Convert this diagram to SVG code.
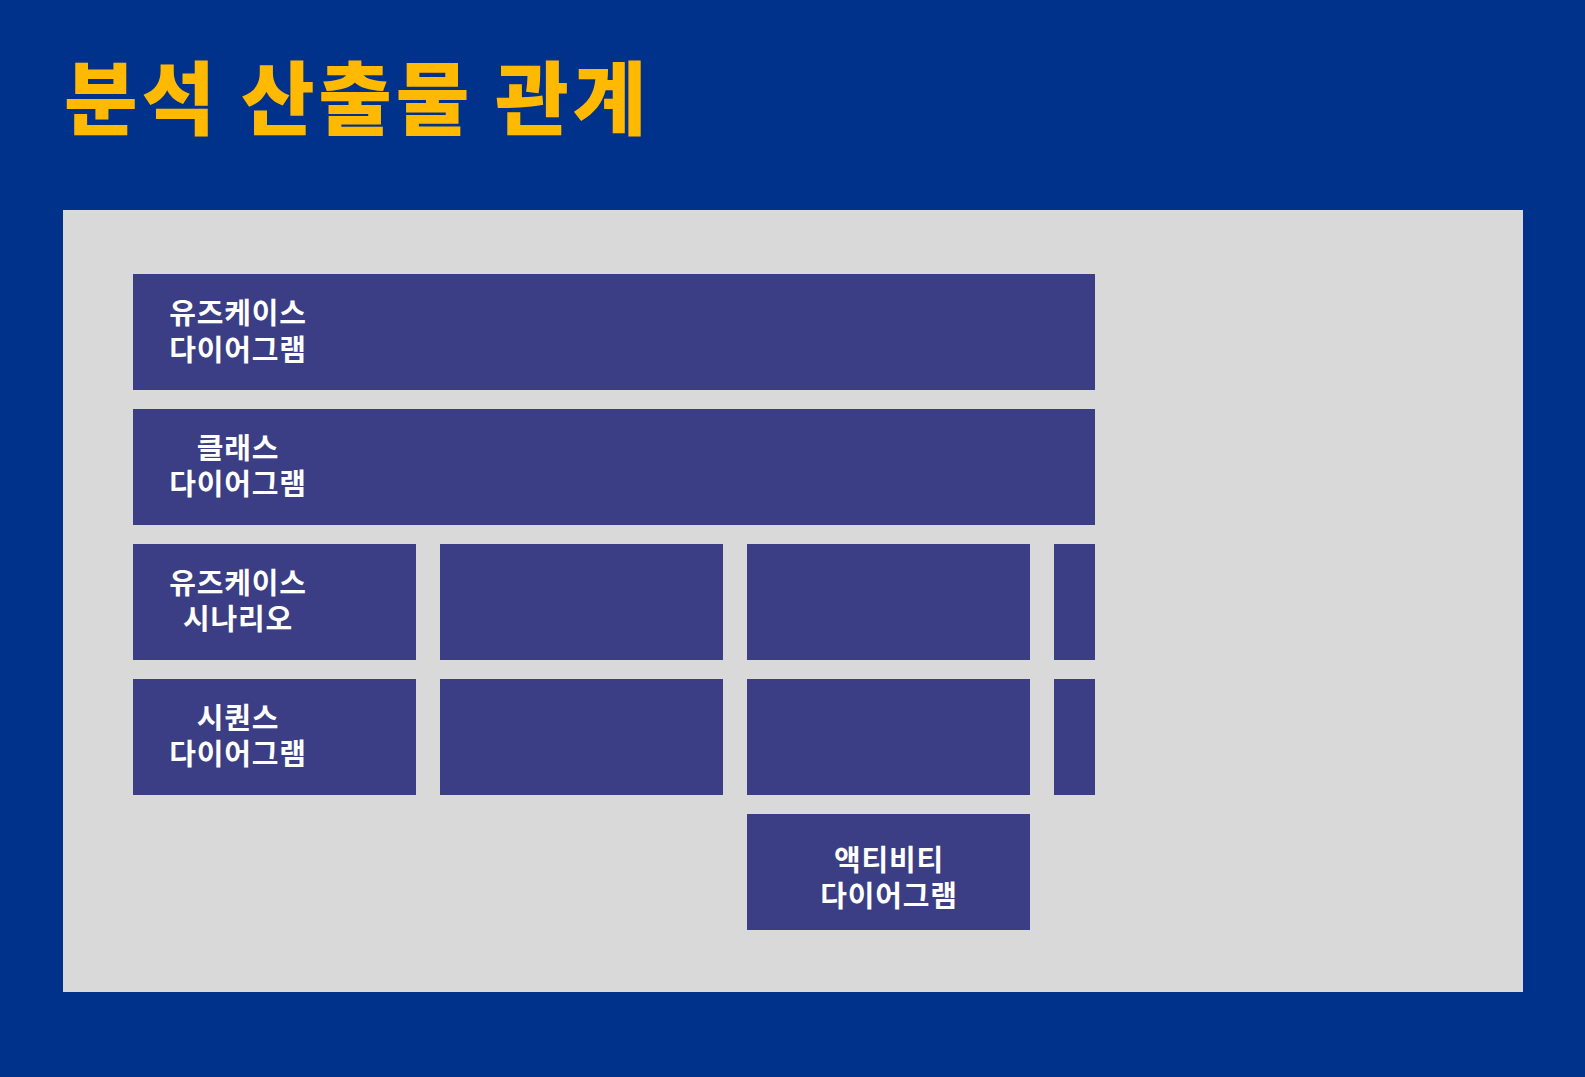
<svg xmlns="http://www.w3.org/2000/svg" width="1585" height="1077" viewBox="0 0 1585 1077">
<style>
.title{font-family:"Noto Sans CJK KR","Noto Sans",sans-serif;font-weight:900;font-size:80px;letter-spacing:3.8px;fill:#FFB900}
.box{fill:#3B3E84}
.lbl{font-family:"Noto Sans CJK KR","Noto Sans",sans-serif;font-weight:700;font-size:29px;letter-spacing:0.8px;fill:#FFFFFF;text-anchor:middle}
</style>
<rect x="0" y="0" width="1585" height="1077" fill="#00318B"/>
<text class="title" x="64" y="128">분석 산출물 관계</text>
<rect id="panel" x="63" y="210" width="1460" height="782" fill="#D9D9D9"/>
<g id="node-usecase-diagram">
<rect class="box" x="133" y="274" width="962" height="116"/>
<text class="lbl"><tspan x="238" y="324">유즈케이스</tspan><tspan x="238" y="361">다이어그램</tspan></text>
</g>
<g id="node-class-diagram">
<rect class="box" x="133" y="409" width="962" height="116"/>
<text class="lbl"><tspan x="238" y="459">클래스</tspan><tspan x="238" y="495">다이어그램</tspan></text>
</g>
<g id="node-usecase-scenario">
<rect class="box" x="133" y="544" width="283" height="116"/>
<text class="lbl"><tspan x="238" y="594">유즈케이스</tspan><tspan x="238" y="630">시나리오</tspan></text>
</g>
<g id="node-r3c2"><rect class="box" x="440" y="544" width="283" height="116"/></g>
<g id="node-r3c3"><rect class="box" x="747" y="544" width="283" height="116"/></g>
<g id="node-r3c4"><rect class="box" x="1054" y="544" width="41" height="116"/></g>
<g id="node-sequence-diagram">
<rect class="box" x="133" y="679" width="283" height="116"/>
<text class="lbl"><tspan x="238" y="729">시퀀스</tspan><tspan x="238" y="765">다이어그램</tspan></text>
</g>
<g id="node-r4c2"><rect class="box" x="440" y="679" width="283" height="116"/></g>
<g id="node-r4c3"><rect class="box" x="747" y="679" width="283" height="116"/></g>
<g id="node-r4c4"><rect class="box" x="1054" y="679" width="41" height="116"/></g>
<g id="node-activity-diagram">
<rect class="box" x="747" y="814" width="283" height="116"/>
<text class="lbl"><tspan x="889" y="871">액티비티</tspan><tspan x="889" y="907">다이어그램</tspan></text>
</g>
<g id="connectors"></g>
</svg>
